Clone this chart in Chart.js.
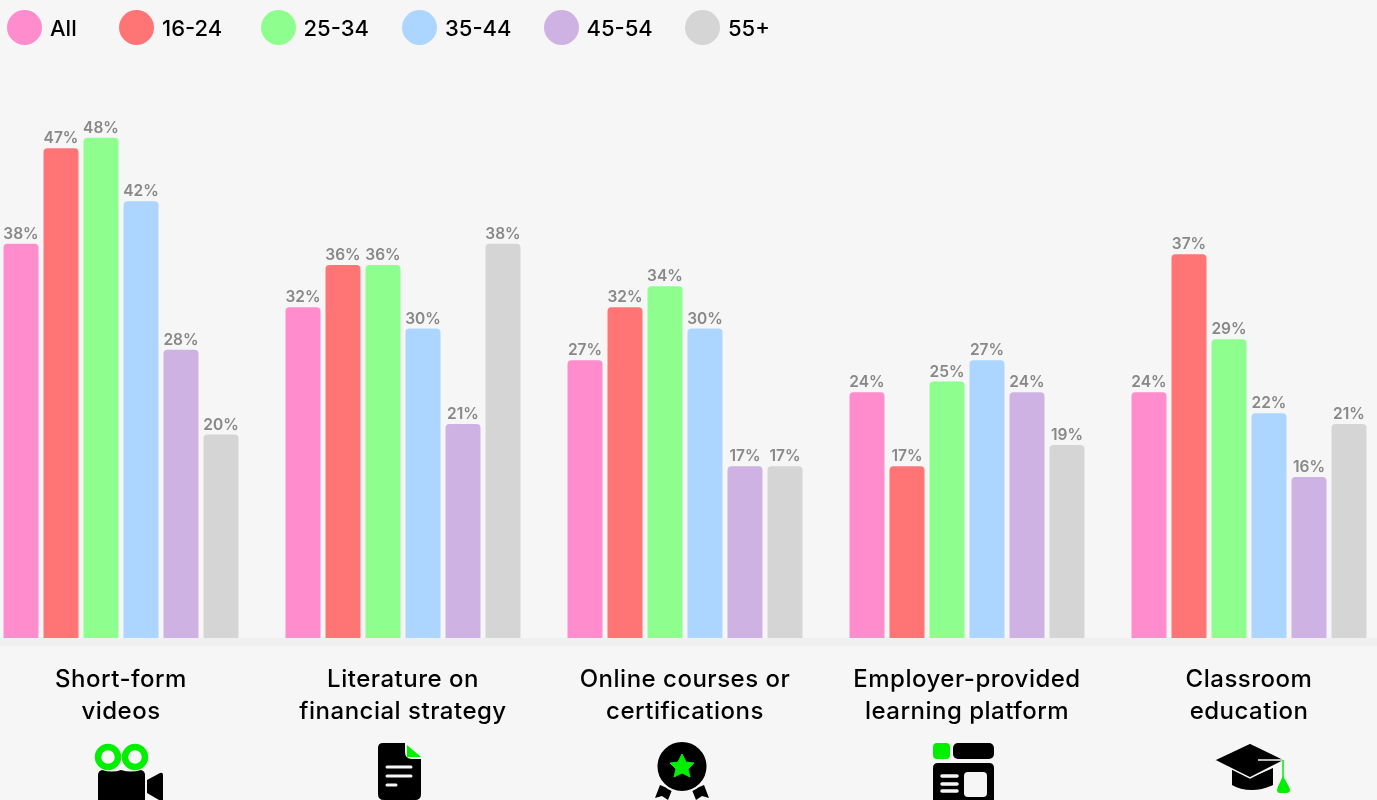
<!DOCTYPE html>
<html>
<head>
<meta charset="utf-8">
<title>Learning formats by age group</title>
<script src="https://cdn.jsdelivr.net/npm/chart.js@4"></script>
<style>
  html, body { margin: 0; background: #f6f6f6; overflow: hidden; }
  #page { position: relative; width: 1377px; height: 800px; overflow: hidden; font-family: Inter, sans-serif; }
  #band { position: absolute; left: 0; top: 638px; width: 1377px; height: 8px; background: #f0f0f0; }
  #chart { position: absolute; left: 0; top: 0; }
  #legend { position: absolute; left: 7px; top: 10px; display: flex; }
  .item { flex: 0 0 141.5px; display: flex; align-items: center; height: 35px; font-size: 22px; font-weight: 500; color: #000; }
  .item:first-child { flex-basis: 112px; }
  .dot { width: 35px; height: 35px; border-radius: 50%; margin-right: 8px; }
  #icons { position: absolute; left: 0; top: 0; }
</style>
</head>
<body>
<div id="page">
  <div id="band"></div>
  <canvas id="chart" width="1377" height="800"></canvas>
  <div id="legend"></div>
  <svg id="icons" width="1377" height="800">
    <!-- video camera -->
    <circle cx="108" cy="757" r="10" fill="none" stroke="#00f000" stroke-width="6.5"/>
    <circle cx="135" cy="757" r="10" fill="none" stroke="#00f000" stroke-width="6.5"/>
    <path d="M102 770 Q112 773 121 770 Q131 773 141 770 Q145 771 145 775 V800 H98 V775 Q98 771 102 770Z" fill="#000"/>
    <path d="M147 780 L160 773 Q163 772 163 775 V800 H159 L147 793Z" fill="#000"/>
    <!-- document -->
    <path d="M383 743 H405 V752 Q405 759 412 759 H421 V794 Q421 800 415 800 H384 Q378 800 378 794 V748 Q378 743 383 743Z" fill="#000"/>
    <path d="M407 745 L421 757 H407Z" fill="#00f000"/>
    <path d="M387 767 H411 M387 776 H411 M387 785 H396" stroke="#f6f6f6" stroke-width="3" stroke-linecap="round"/>
    <!-- award badge -->
    <path d="M660 785 L655 798 L662 796 L668 800 L672 790Z M704 785 L709 798 L702 796 L696 800 L692 790Z" fill="#000"/>
    <circle cx="682" cy="766.5" r="25.5" fill="#000" stroke="#f6f6f6" stroke-width="2"/>
    <path d="M682 754 L686 762 L694 763 L688 769 L690 777 L682 773 L674 777 L676 769 L670 763 L678 762Z" fill="#00f000" stroke="#00f000" stroke-linejoin="round"/>
    <!-- platform layout -->
    <rect x="933" y="743" width="17" height="16" rx="4" fill="#00f000"/>
    <rect x="953" y="743" width="41" height="16" rx="5" fill="#000"/>
    <path d="M938 763 H989 Q994 763 994 768 V800 H933 V768 Q933 763 938 763Z" fill="#000"/>
    <rect x="964" y="772" width="23" height="25" rx="4" fill="#f6f6f6"/>
    <path d="M942 776 H957 M942 784 H957 M942 791 H957" stroke="#f6f6f6" stroke-width="3.5" stroke-linecap="round"/>
    <!-- graduation cap -->
    <path d="M1232 768 L1250 778 L1273 768 V785 Q1262 790 1252 790 Q1240 790 1232 785Z" fill="#000"/>
    <path d="M1250 743 L1285 760 L1250 778 L1214 760Z" fill="#000" stroke="#f6f6f6" stroke-width="1.5"/>
    <path d="M1258 760 H1283" stroke="#f6f6f6" stroke-width="1.5"/>
    <path d="M1283 760 V780" stroke="#00f000" stroke-width="1.5"/>
    <path d="M1283 776 Q1290 788 1290 790 Q1290 793 1286 793 H1280 Q1277 793 1277 790 Q1277 788 1283 776Z" fill="#00f000"/>
  </svg>
</div>
<script>
const categories = [
  ['Short-form', 'videos'],
  ['Literature on', 'financial strategy'],
  ['Online courses or', 'certifications'],
  ['Employer-provided', 'learning platform'],
  ['Classroom', 'education']
];
const ageGroups = ['All', '16-24', '25-34', '35-44', '45-54', '55+'];
const colors = ['#ff8ccd', '#ff7575', '#8eff8e', '#acd6ff', '#ceb2e4', '#d5d5d5'];

const allAges = [38, 32, 27, 24, 24];
const age16to24 = [47, 36, 32, 17, 37];
const age25to34 = [48, 36, 34, 25, 29];
const age35to44 = [42, 30, 30, 27, 22];
const age45to54 = [28, 21, 17, 24, 16];
const age55plus = [20, 38, 17, 19, 21];
const seriesValues = [allAges, age16to24, age25to34, age35to44, age45to54, age55plus];

// legend is plain DOM, the circles are bigger than the font allows in the built-in one
const legendEl = document.getElementById('legend');
ageGroups.forEach((name, i) => {
  const item = document.createElement('div');
  item.className = 'item';
  const dot = document.createElement('span');
  dot.className = 'dot';
  dot.style.background = colors[i];
  item.appendChild(dot);
  item.appendChild(document.createTextNode(name));
  legendEl.appendChild(item);
});

// wider tracking for the category labels
const tickSpacing = {
  id: 'tickSpacing',
  beforeDraw(chart) {
    chart.ctx.letterSpacing = '0.5px';
  }
};

// percentage above each bar
const valueLabels = {
  id: 'valueLabels',
  afterDatasetsDraw(chart) {
    const ctx = chart.ctx;
    ctx.save();
    ctx.font = '600 15.5px Inter, sans-serif';
    ctx.letterSpacing = '0px';
    ctx.fillStyle = '#888888';
    ctx.textAlign = 'center';
    ctx.textBaseline = 'alphabetic';
    chart.data.datasets.forEach((ds, d) => {
      chart.getDatasetMeta(d).data.forEach((bar, i) => {
        ctx.fillText(ds.data[i] + '%', bar.x, bar.y - 5);
      });
    });
    ctx.restore();
  }
};

new Chart(document.getElementById('chart'), {
  type: 'bar',
  plugins: [tickSpacing, valueLabels],
  data: {
    labels: categories,
    datasets: ageGroups.map((name, i) => ({
      label: name,
      data: seriesValues[i],
      backgroundColor: colors[i],
      base: 0.8,
      borderRadius: { topLeft: 4, topRight: 4 },
      borderSkipped: false,
      clip: false,
      categoryPercentage: 240 / 282,
      barPercentage: 0.875
    }))
  },
  options: {
    responsive: false,
    animation: false,
    events: [],
    layout: { padding: { left: 121, right: 128 } },
    plugins: { legend: { display: false }, tooltip: { enabled: false } },
    scales: {
      x: {
        offset: false,
        grid: { display: false },
        border: { display: false },
        afterFit(scale) { scale.height = 162; },
        ticks: {
          padding: 18,
          autoSkip: false,
          maxRotation: 0,
          color: '#000',
          font: { family: 'Inter, sans-serif', size: 24, weight: '500', lineHeight: 32 / 24 }
        }
      },
      y: { display: false, min: 0.8, max: 61 }
    }
  }
});
</script>
</body>
</html>
